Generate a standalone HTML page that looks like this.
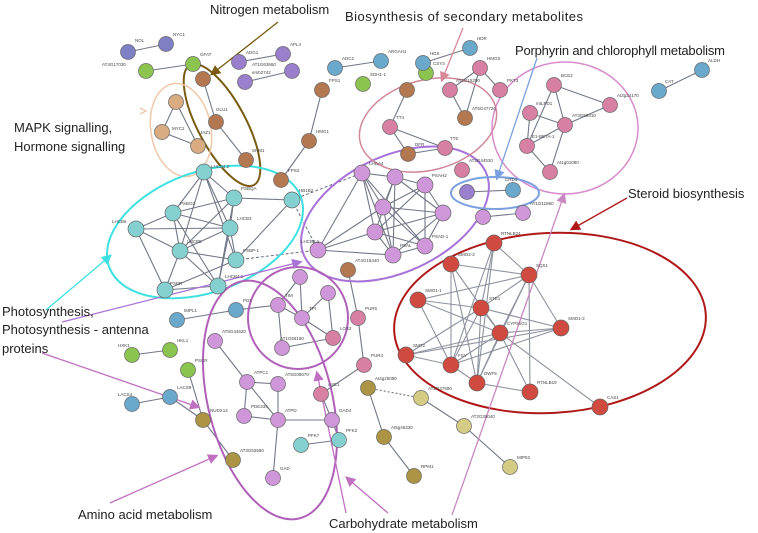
<!DOCTYPE html>
<html><head><meta charset="utf-8"><style>
body{margin:0;background:#fff}
svg{display:block}
.n{stroke:#666;stroke-width:.7}
.l{font-family:"Liberation Sans",sans-serif;font-size:4.5px;fill:#444}
.t{font-family:"Liberation Sans",sans-serif;font-size:13px;fill:#222}
.e line{stroke:#727888;stroke-width:1.1}
</style></head><body>
<svg width="758" height="533" viewBox="0 0 758 533" xmlns="http://www.w3.org/2000/svg">
<defs>
<marker id="a" markerWidth="8" markerHeight="8" refX="6" refY="4" orient="auto"><path d="M0,0L8,4L0,8z" fill="context-stroke"/></marker>
</defs>
<g class="e">
<line x1="128" y1="52" x2="166" y2="44"/><line x1="146" y1="71" x2="193" y2="64"/>
<line x1="239" y1="62" x2="283" y2="54"/><line x1="245" y1="82" x2="292" y2="71"/><line x1="335" y1="68" x2="381" y2="61"/>
<line x1="203" y1="79" x2="216" y2="122"/><line x1="216" y1="122" x2="246" y2="160"/>
<line x1="176" y1="102" x2="162" y2="132"/><line x1="162" y1="132" x2="198" y2="146"/><line x1="176" y1="102" x2="198" y2="146"/>
<line x1="322" y1="90" x2="309" y2="141"/><line x1="309" y1="141" x2="281" y2="180"/>
<line x1="423" y1="63" x2="470" y2="48"/><line x1="450" y1="90" x2="480" y2="68"/><line x1="480" y1="68" x2="500" y2="90"/><line x1="450" y1="90" x2="465" y2="118"/><line x1="480" y1="68" x2="465" y2="118"/><line x1="407" y1="90" x2="390" y2="127"/><line x1="390" y1="127" x2="408" y2="154"/><line x1="408" y1="154" x2="445" y2="148"/><line x1="390" y1="127" x2="445" y2="148"/>
<line x1="659" y1="91" x2="702" y2="70"/>
<line x1="554" y1="85" x2="610" y2="105"/><line x1="554" y1="85" x2="565" y2="125"/><line x1="530" y1="113" x2="565" y2="125"/><line x1="530" y1="113" x2="527" y2="146"/><line x1="565" y1="125" x2="527" y2="146"/><line x1="527" y1="146" x2="550" y2="172"/><line x1="565" y1="125" x2="550" y2="172"/><line x1="554" y1="85" x2="527" y2="146"/><line x1="565" y1="125" x2="610" y2="105"/>
<line x1="467" y1="192" x2="513" y2="190"/><line x1="483" y1="217" x2="523" y2="213"/>
<line x1="204" y1="172" x2="234" y2="198"/><line x1="204" y1="172" x2="173" y2="213"/><line x1="204" y1="172" x2="180" y2="251"/><line x1="204" y1="172" x2="230" y2="228"/><line x1="234" y1="198" x2="292" y2="200"/><line x1="234" y1="198" x2="173" y2="213"/><line x1="234" y1="198" x2="230" y2="228"/><line x1="234" y1="198" x2="180" y2="251"/><line x1="234" y1="198" x2="218" y2="286"/><line x1="173" y1="213" x2="136" y2="229"/><line x1="173" y1="213" x2="230" y2="228"/><line x1="173" y1="213" x2="180" y2="251"/><line x1="173" y1="213" x2="218" y2="286"/><line x1="136" y1="229" x2="180" y2="251"/><line x1="136" y1="229" x2="165" y2="290"/><line x1="136" y1="229" x2="230" y2="228"/><line x1="180" y1="251" x2="230" y2="228"/><line x1="180" y1="251" x2="236" y2="260"/><line x1="180" y1="251" x2="218" y2="286"/><line x1="180" y1="251" x2="165" y2="290"/><line x1="230" y1="228" x2="236" y2="260"/><line x1="230" y1="228" x2="218" y2="286"/><line x1="292" y1="200" x2="236" y2="260"/><line x1="236" y1="260" x2="165" y2="290"/><line x1="218" y1="286" x2="165" y2="290"/><line x1="204" y1="172" x2="236" y2="260"/>
<line x1="362" y1="173" x2="395" y2="177"/><line x1="362" y1="173" x2="383" y2="207"/><line x1="362" y1="173" x2="375" y2="232"/><line x1="362" y1="173" x2="393" y2="255"/><line x1="362" y1="173" x2="425" y2="246"/><line x1="362" y1="173" x2="318" y2="250"/><line x1="395" y1="177" x2="425" y2="185"/><line x1="395" y1="177" x2="383" y2="207"/><line x1="395" y1="177" x2="443" y2="213"/><line x1="395" y1="177" x2="375" y2="232"/><line x1="395" y1="177" x2="393" y2="255"/><line x1="425" y1="185" x2="383" y2="207"/><line x1="425" y1="185" x2="443" y2="213"/><line x1="425" y1="185" x2="375" y2="232"/><line x1="425" y1="185" x2="425" y2="246"/><line x1="383" y1="207" x2="443" y2="213"/><line x1="383" y1="207" x2="393" y2="255"/><line x1="383" y1="207" x2="425" y2="246"/><line x1="443" y1="213" x2="375" y2="232"/><line x1="443" y1="213" x2="393" y2="255"/><line x1="443" y1="213" x2="425" y2="246"/><line x1="375" y1="232" x2="393" y2="255"/><line x1="375" y1="232" x2="425" y2="246"/><line x1="318" y1="250" x2="393" y2="255"/><line x1="318" y1="250" x2="375" y2="232"/><line x1="393" y1="255" x2="425" y2="246"/><line x1="318" y1="250" x2="383" y2="207"/>
<line x1="292" y1="200" x2="318" y2="250" stroke-dasharray="3,2"/><line x1="236" y1="260" x2="318" y2="250" stroke-dasharray="3,2"/><line x1="292" y1="200" x2="362" y2="173" stroke-dasharray="3,2"/>
<g style="opacity:.8">
<line x1="494" y1="243" x2="481" y2="308"/><line x1="494" y1="243" x2="529" y2="275"/><line x1="494" y1="243" x2="451" y2="365"/><line x1="494" y1="243" x2="477" y2="383"/><line x1="451" y1="264" x2="500" y2="333"/><line x1="451" y1="264" x2="529" y2="275"/><line x1="451" y1="264" x2="451" y2="365"/><line x1="451" y1="264" x2="477" y2="383"/><line x1="529" y1="275" x2="481" y2="308"/><line x1="529" y1="275" x2="500" y2="333"/><line x1="529" y1="275" x2="561" y2="328"/><line x1="529" y1="275" x2="477" y2="383"/><line x1="529" y1="275" x2="530" y2="392"/><line x1="418" y1="300" x2="481" y2="308"/><line x1="418" y1="300" x2="500" y2="333"/><line x1="418" y1="300" x2="451" y2="365"/><line x1="418" y1="300" x2="529" y2="275"/><line x1="481" y1="308" x2="500" y2="333"/><line x1="481" y1="308" x2="406" y2="355"/><line x1="481" y1="308" x2="451" y2="365"/><line x1="481" y1="308" x2="477" y2="383"/><line x1="481" y1="308" x2="561" y2="328"/><line x1="500" y1="333" x2="561" y2="328"/><line x1="500" y1="333" x2="406" y2="355"/><line x1="500" y1="333" x2="451" y2="365"/><line x1="500" y1="333" x2="477" y2="383"/><line x1="500" y1="333" x2="530" y2="392"/><line x1="500" y1="333" x2="600" y2="407"/><line x1="406" y1="355" x2="451" y2="365"/><line x1="406" y1="355" x2="561" y2="328"/><line x1="451" y1="365" x2="477" y2="383"/><line x1="477" y1="383" x2="530" y2="392"/><line x1="451" y1="365" x2="561" y2="328"/>
</g>
<line x1="421" y1="398" x2="464" y2="426"/><line x1="464" y1="426" x2="510" y2="467"/><line x1="368" y1="388" x2="384" y2="437"/><line x1="384" y1="437" x2="414" y2="476"/><line x1="368" y1="388" x2="421" y2="398" stroke-dasharray="2,2"/>
<line x1="300" y1="277" x2="278" y2="305"/><line x1="300" y1="277" x2="302" y2="318"/><line x1="328" y1="293" x2="302" y2="318"/><line x1="328" y1="293" x2="333" y2="338"/><line x1="278" y1="305" x2="302" y2="318"/><line x1="278" y1="305" x2="282" y2="348"/><line x1="302" y1="318" x2="333" y2="338"/><line x1="282" y1="348" x2="333" y2="338"/><line x1="236" y1="310" x2="278" y2="305"/><line x1="177" y1="320" x2="236" y2="310"/>
<line x1="348" y1="270" x2="358" y2="318"/><line x1="358" y1="318" x2="364" y2="365"/><line x1="364" y1="365" x2="321" y2="394"/><line x1="321" y1="394" x2="332" y2="420"/><line x1="332" y1="420" x2="339" y2="440"/><line x1="301" y1="445" x2="339" y2="440"/>
<line x1="132" y1="355" x2="170" y2="350"/><line x1="132" y1="404" x2="170" y2="397"/><line x1="170" y1="397" x2="203" y2="420"/><line x1="188" y1="370" x2="203" y2="420"/><line x1="203" y1="420" x2="233" y2="460"/><line x1="215" y1="341" x2="247" y2="382"/>
<line x1="247" y1="382" x2="278" y2="384"/><line x1="247" y1="382" x2="244" y2="416"/><line x1="247" y1="382" x2="278" y2="420"/><line x1="278" y1="384" x2="278" y2="420"/><line x1="244" y1="416" x2="278" y2="420"/><line x1="278" y1="420" x2="332" y2="420"/><line x1="278" y1="420" x2="273" y2="478"/>
</g>
<g fill="none" stroke-width="2">
<ellipse cx="222" cy="125" rx="24" ry="68" transform="rotate(-28 222 125)" stroke="#7a5c10"/>
<ellipse cx="181" cy="130" rx="30" ry="47" transform="rotate(-10 181 130)" stroke="#f0c8a8" stroke-width="1.5"/>
<ellipse cx="205" cy="232" rx="102" ry="60" transform="rotate(-20 205 232)" stroke="#3ee0e0"/>
<ellipse cx="395" cy="214" rx="100" ry="58" transform="rotate(-25 395 214)" stroke="#a873d8"/>
<ellipse cx="428" cy="125" rx="70" ry="45" transform="rotate(-15 428 125)" stroke="#d08898" stroke-width="1.5"/>
<ellipse cx="565" cy="128" rx="73" ry="66" stroke="#d88ccc" stroke-width="1.5"/>
<ellipse cx="495" cy="193" rx="44" ry="16" stroke="#7aa0e0"/>
<ellipse cx="550" cy="323" rx="156" ry="90" transform="rotate(-3 550 323)" stroke="#b01818"/>
<ellipse cx="298" cy="318" rx="50" ry="51" stroke="#b060b8"/>
<ellipse cx="270" cy="400" rx="62" ry="122" transform="rotate(-14 270 400)" stroke="#b060b8"/>
</g>
<g fill="none" stroke-width="1.3">
<line x1="278" y1="22" x2="212" y2="74" stroke="#7a5c10" marker-end="url(#a)"/>
<line x1="463" y1="28" x2="442" y2="80" stroke="#d88898" marker-end="url(#a)"/>
<line x1="537" y1="58" x2="497" y2="178" stroke="#7aa0e0" marker-end="url(#a)"/>
<line x1="627" y1="198" x2="572" y2="229" stroke="#b01818" marker-end="url(#a)"/>
<line x1="46" y1="310" x2="110" y2="256" stroke="#3ee0e0" marker-end="url(#a)"/>
<line x1="62" y1="322" x2="300" y2="262" stroke="#a873d8" marker-end="url(#a)"/>
<line x1="42" y1="353" x2="198" y2="407" stroke="#c070c0" marker-end="url(#a)"/>
<line x1="110" y1="503" x2="216" y2="456" stroke="#c070c0" marker-end="url(#a)"/>
<line x1="388" y1="513" x2="347" y2="478" stroke="#c070c0" marker-end="url(#a)"/>
<line x1="346" y1="513" x2="317" y2="373" stroke="#c070c0" marker-end="url(#a)"/>
<line x1="452" y1="515" x2="564" y2="195" stroke="#c888c0" marker-end="url(#a)"/>
<path d="M140,108 l6,3 l-6,3" stroke="#f0c8a8"/>
</g>
<g class="n">
<g fill="#7f7fc4"><circle cx="128" cy="52" r="7.5"/><circle cx="166" cy="44" r="7.5"/></g>
<g fill="#8cc450"><circle cx="146" cy="71" r="7.5"/><circle cx="193" cy="64" r="7.5"/><circle cx="363" cy="84" r="7.5"/><circle cx="426" cy="73" r="7.5"/><circle cx="132" cy="355" r="7.5"/><circle cx="170" cy="350" r="7.5"/><circle cx="188" cy="370" r="7.5"/></g>
<g fill="#9a80cc"><circle cx="239" cy="62" r="7.5"/><circle cx="245" cy="82" r="7.5"/><circle cx="283" cy="54" r="7.5"/><circle cx="292" cy="71" r="7.5"/><circle cx="467" cy="192" r="7.5"/></g>
<g fill="#6aa8cc"><circle cx="335" cy="68" r="7.5"/><circle cx="381" cy="61" r="7.5"/><circle cx="423" cy="63" r="7.5"/><circle cx="470" cy="48" r="7.5"/><circle cx="659" cy="91" r="7.5"/><circle cx="702" cy="70" r="7.5"/><circle cx="513" cy="190" r="7.5"/><circle cx="132" cy="404" r="7.5"/><circle cx="170" cy="397" r="7.5"/><circle cx="236" cy="310" r="7.5"/><circle cx="177" cy="320" r="7.5"/></g>
<g fill="#b47850"><circle cx="203" cy="79" r="7.5"/><circle cx="216" cy="122" r="7.5"/><circle cx="246" cy="160" r="7.5"/><circle cx="322" cy="90" r="7.5"/><circle cx="309" cy="141" r="7.5"/><circle cx="281" cy="180" r="7.5"/><circle cx="407" cy="90" r="7.5"/><circle cx="408" cy="154" r="7.5"/><circle cx="465" cy="118" r="7.5"/><circle cx="348" cy="270" r="7.5"/></g>
<g fill="#d8ac80"><circle cx="176" cy="102" r="7.5"/><circle cx="162" cy="132" r="7.5"/><circle cx="198" cy="146" r="7.5"/></g>
<g fill="#d880a4"><circle cx="390" cy="127" r="7.5"/><circle cx="445" cy="148" r="7.5"/><circle cx="450" cy="90" r="7.5"/><circle cx="480" cy="68" r="7.5"/><circle cx="500" cy="90" r="7.5"/><circle cx="554" cy="85" r="7.5"/><circle cx="610" cy="105" r="7.5"/><circle cx="530" cy="113" r="7.5"/><circle cx="565" cy="125" r="7.5"/><circle cx="527" cy="146" r="7.5"/><circle cx="550" cy="172" r="7.5"/><circle cx="462" cy="170" r="7.5"/><circle cx="358" cy="318" r="7.5"/><circle cx="364" cy="365" r="7.5"/><circle cx="333" cy="338" r="7.5"/><circle cx="321" cy="394" r="7.5"/></g>
<g fill="#84d0d0"><circle cx="204" cy="172" r="8"/><circle cx="234" cy="198" r="8"/><circle cx="292" cy="200" r="8"/><circle cx="173" cy="213" r="8"/><circle cx="136" cy="229" r="8"/><circle cx="230" cy="228" r="8"/><circle cx="180" cy="251" r="8"/><circle cx="236" cy="260" r="8"/><circle cx="218" cy="286" r="8"/><circle cx="165" cy="290" r="8"/><circle cx="301" cy="445" r="7.5"/><circle cx="339" cy="440" r="7.5"/></g>
<g fill="#d096da"><circle cx="362" cy="173" r="8"/><circle cx="395" cy="177" r="8"/><circle cx="425" cy="185" r="8"/><circle cx="383" cy="207" r="8"/><circle cx="443" cy="213" r="8"/><circle cx="375" cy="232" r="8"/><circle cx="318" cy="250" r="8"/><circle cx="393" cy="255" r="8"/><circle cx="425" cy="246" r="8"/><circle cx="483" cy="217" r="7.5"/><circle cx="523" cy="213" r="7.5"/>
<circle cx="300" cy="277" r="7.5"/><circle cx="328" cy="293" r="7.5"/><circle cx="278" cy="305" r="7.5"/><circle cx="302" cy="318" r="7.5"/><circle cx="282" cy="348" r="7.5"/><circle cx="215" cy="341" r="7.5"/><circle cx="247" cy="382" r="7.5"/><circle cx="278" cy="384" r="7.5"/><circle cx="244" cy="416" r="7.5"/><circle cx="278" cy="420" r="7.5"/><circle cx="332" cy="420" r="7.5"/><circle cx="273" cy="478" r="7.5"/></g>
<g fill="#d04a40"><circle cx="494" cy="243" r="8"/><circle cx="451" cy="264" r="8"/><circle cx="529" cy="275" r="8"/><circle cx="418" cy="300" r="8"/><circle cx="481" cy="308" r="8"/><circle cx="500" cy="333" r="8"/><circle cx="561" cy="328" r="8"/><circle cx="406" cy="355" r="8"/><circle cx="451" cy="365" r="8"/><circle cx="477" cy="383" r="8"/><circle cx="530" cy="392" r="8"/><circle cx="600" cy="407" r="8"/></g>
<g fill="#d4cc84"><circle cx="421" cy="398" r="7.5"/><circle cx="464" cy="426" r="7.5"/><circle cx="510" cy="467" r="7.5"/></g>
<g fill="#ac9444"><circle cx="368" cy="388" r="7.5"/><circle cx="384" cy="437" r="7.5"/><circle cx="414" cy="476" r="7.5"/><circle cx="203" cy="420" r="7.5"/><circle cx="233" cy="460" r="7.5"/></g>
</g>
<g class="l">
<text x="135" y="42">NOL</text><text x="173" y="36">NYC1</text><text x="102" y="66">AT4G17030</text><text x="200" y="56">GFAT</text><text x="246" y="54">ADG1</text><text x="290" y="46">APL4</text><text x="252" y="74">emb2742</text><text x="252" y="66">AT1G63660</text><text x="342" y="60">ADC2</text><text x="388" y="53">ARGAH1</text><text x="370" y="76">SDH1-1</text><text x="329" y="82">FPS1</text><text x="216" y="111">GLU1</text><text x="172" y="130">MYC2</text><text x="200" y="134">JAZ1</text><text x="252" y="152">SHM1</text><text x="316" y="133">HMG1</text><text x="288" y="172">FPS2</text>
<text x="211" y="168">LHCB4.2</text><text x="241" y="190">PSBQA</text><text x="299" y="192">HB1B2</text><text x="180" y="205">PSBO2</text><text x="112" y="223">LHCB6</text><text x="237" y="220">LHCB3</text><text x="187" y="243">LHCB5</text><text x="243" y="252">PSBP-1</text><text x="225" y="278">LHCB4.1</text><text x="170" y="285">PSBR</text>
<text x="430" y="55">HDS</text><text x="477" y="40">HDR</text><text x="433" y="65">CSY3</text><text x="487" y="60">HMGS</text><text x="456" y="82">AT3G15290</text><text x="507" y="82">PKT3</text><text x="472" y="110">AT5G47720</text><text x="396" y="119">TT4</text><text x="415" y="146">DFR</text><text x="450" y="140">TT5</text>
<text x="561" y="77">BCE2</text><text x="617" y="97">At3g24170</text><text x="536" y="105">mtLPD1</text><text x="572" y="117">AT3G55410</text><text x="532" y="138">E1-BETA-1</text><text x="557" y="164">At1g01080</text><text x="665" y="83">CAT</text><text x="708" y="62">ALDH</text>
<text x="469" y="162">AT2G44530</text><text x="505" y="181">CRD1</text><text x="530" y="205">AT1G11860</text>
<text x="369" y="165">LHCA4</text><text x="432" y="177">PSAH2</text><text x="432" y="238">PSAD-1</text><text x="301" y="243">LHCB2.1</text><text x="400" y="247">PSAL</text><text x="355" y="262">AT4G18440</text>
<text x="501" y="235">RTNLB24</text><text x="458" y="256">SMO2-2</text><text x="536" y="267">SQS1</text><text x="425" y="292">SMO1-1</text><text x="489" y="300">STE1</text><text x="507" y="325">CYP51G1</text><text x="568" y="320">SMO1-2</text><text x="413" y="347">SMT2</text><text x="458" y="357">FSY</text><text x="484" y="375">DWF5</text><text x="537" y="384">RTNLB19</text><text x="607" y="399">CAS1</text>
<text x="428" y="390">AT2G37690</text><text x="471" y="418">AT2G35040</text><text x="517" y="459">MIP52</text><text x="391" y="429">At5g46330</text><text x="421" y="468">RPM1</text><text x="375" y="380">At4g26090</text>
<text x="285" y="297">TIM</text><text x="309" y="310">TPI</text><text x="340" y="330">LOS2</text><text x="280" y="340">AT1G56190</text><text x="243" y="302">PGI</text><text x="184" y="312">IMPL1</text><text x="222" y="333">AT5G44520</text><text x="118" y="347">HXK1</text><text x="177" y="342">HKL1</text><text x="195" y="362">PSCR</text><text x="118" y="396">LACS4</text><text x="177" y="389">LACS9</text><text x="210" y="412">NUDX14</text><text x="254" y="374">ATPC1</text><text x="285" y="376">AT5G08670</text><text x="251" y="408">PDE334</text><text x="285" y="412">ATPD</text><text x="365" y="310">PUR5</text><text x="371" y="357">PUR4</text><text x="328" y="386">ASE1</text><text x="339" y="412">GAD4</text><text x="308" y="437">PFK7</text><text x="346" y="432">PFK2</text><text x="240" y="452">AT3G53580</text><text x="280" y="470">GAD</text>
</g>
<g class="t">
<text x="210" y="14">Nitrogen metabolism</text>
<text x="345" y="21" textLength="238">Biosynthesis of secondary metabolites</text>
<text x="515" y="55" textLength="210">Porphyrin and chlorophyll metabolism</text>
<text x="14" y="132">MAPK signalling,</text>
<text x="14" y="151">Hormone signalling</text>
<text x="628" y="198">Steroid biosynthesis</text>
<text x="2" y="316">Photosynthesis,</text>
<text x="2" y="334">Photosynthesis - antenna</text>
<text x="2" y="353">proteins</text>
<text x="78" y="519">Amino acid metabolism</text>
<text x="329" y="528">Carbohydrate metabolism</text>
</g>
</svg>
</body></html>
